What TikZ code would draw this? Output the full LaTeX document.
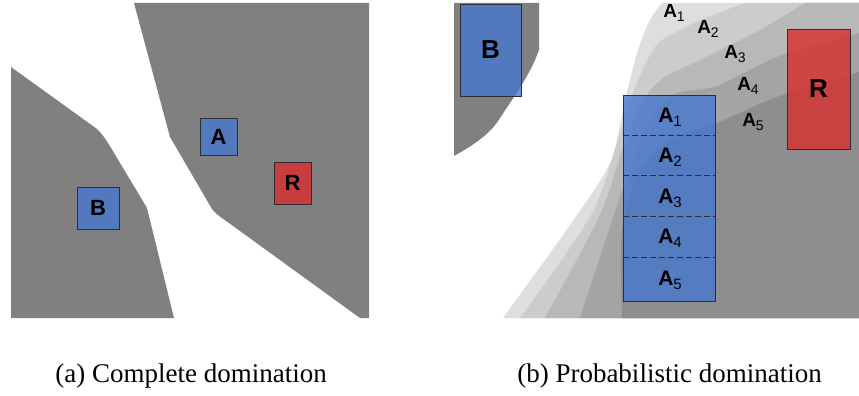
\documentclass[tikz,border=0pt]{standalone}
\usepackage{fontspec}
\setmainfont{Liberation Serif}
\newfontfamily\arialf{Liberation Sans}
\usetikzlibrary{calc}
\definecolor{gmid}{RGB}{128,128,128}
\definecolor{bandA}{RGB}{222,222,222}
\definecolor{bandB}{RGB}{204,204,204}
\definecolor{bandC}{RGB}{184,184,184}
\definecolor{bandD}{RGB}{164,164,164}
\definecolor{bandE}{RGB}{142,142,142}
\definecolor{boxblue}{RGB}{70,118,208}
\definecolor{boxred}{RGB}{218,46,46}
\definecolor{boxedge}{RGB}{45,45,50}
\newcommand{\bigsub}[1]{A\kern-0.3pt\raisebox{-4pt}{\fontsize{15}{15}\selectfont\mdseries #1}}
\newcommand{\smallsub}[1]{A\kern-0.3pt\raisebox{-3.5pt}{\fontsize{14}{14}\selectfont\mdseries #1}}
\tikzset{
  bluebox/.style={draw=boxedge, line width=0.8pt, fill=boxblue, fill opacity=0.78, text opacity=1, inner sep=0pt},
  redbox/.style={draw=boxedge, line width=0.8pt, fill=boxred, fill opacity=0.8, text opacity=1, inner sep=0pt},
  lbl/.style={font=\arialf\bfseries\fontsize{22}{22}\selectfont},
  biglbl/.style={font=\arialf\bfseries\fontsize{26}{26}\selectfont},
  celllbl/.style={font=\arialf\bfseries\fontsize{21}{21}\selectfont, inner sep=0pt},
  outlbl/.style={font=\arialf\bfseries\fontsize{19}{19}\selectfont, inner sep=0pt},
  divider/.style={draw=boxedge, line width=0.8pt, dash pattern=on 6pt off 3pt},
  caption/.style={font=\fontsize{27}{27}\selectfont, anchor=base, inner sep=0pt}
}
\begin{document}
\begin{tikzpicture}[x=1pt,y=-1pt]
\useasboundingbox[fill=white] (0,0) rectangle (859,396);
% ---------- panel (a) ----------
\fill[gmid] (11,67) -- (97,129) .. controls (102,134) and (104,137) .. (108,143) -- (147,208) -- (174,318) -- (11,318) -- cycle;
\fill[gmid] (134,3) -- (369,3) -- (369,318) -- (360,318) -- (222,218) .. controls (218,215) and (215,213) .. (212,209) -- (170,137) -- cycle;
\node[bluebox, lbl, minimum width=37pt, minimum height=37pt] (a) at (218.5,136.5) {A};
\node[redbox, lbl, minimum width=37pt, minimum height=42pt] (r) at (292.5,183) {R};
\node[bluebox, lbl, minimum width=42pt, minimum height=42pt] (b) at (98,208) {B};
% ---------- panel (b) ----------
\fill[gmid] (454,3) -- (539,3) -- (539,50) .. controls (530,75) and (515,95) .. (500,118) .. controls (490,135) and (470,147) .. (454,156) -- cycle;
\fill[bandA] plot[smooth, tension=0.5] coordinates {(503,318) (570,225) (610,163) (625,100) (638,50) (650,20) (662,3)} -- (859,3) -- (859,318) -- cycle;
\fill[bandB] plot[smooth, tension=0.5] coordinates {(520,318) (590,217) (615,150) (632,95) (655,47) (680,30) (703,19) (745,3)} -- (859,3) -- (859,318) -- cycle;
\fill[bandC] plot[smooth, tension=0.5] coordinates {(545,318) (600,215) (622,150) (640,105) (662,79) (700,60) (760,30) (805,3)} -- (859,3) -- (859,318) -- cycle;
\fill[bandD] plot[smooth, tension=0.5] coordinates {(580,318) (620,197) (645,130) (672,95) (717,86) (777,57) (859,33)} -- (859,318) -- cycle;
\fill[bandE] plot[smooth, tension=0.5] coordinates {(622,318) (622,230) (640,170) (675,138) (717,123) (777,97) (859,72)} -- (859,318) -- cycle;
\node[bluebox, biglbl, minimum width=61pt, minimum height=92pt] (b2) at (490.5,50) {B};
\node[redbox, biglbl, minimum width=63pt, minimum height=120pt] (r2) at (818.5,89) {R};
\node[bluebox, minimum width=92pt, minimum height=206pt] (stack) at (669,198) {};
\foreach \f in {0.195,0.393,0.587,0.786}{
  \draw[divider] ($(stack.north west)!\f!(stack.south west)$) -- ($(stack.north east)!\f!(stack.south east)$);
}
\node[celllbl] (c1) at (670,117) {\bigsub{1}};
\node[celllbl] (c2) at (670,157) {\bigsub{2}};
\node[celllbl] (c3) at (670,198) {\bigsub{3}};
\node[celllbl] (c4) at (670,238) {\bigsub{4}};
\node[celllbl] (c5) at (670,280) {\bigsub{5}};
\node[outlbl] (o1) at (674,13) {\smallsub{1}};
\node[outlbl] (o2) at (708,29) {\smallsub{2}};
\node[outlbl] (o3) at (735,54) {\smallsub{3}};
\node[outlbl] (o4) at (748,86) {\smallsub{4}};
\node[outlbl] (o5) at (753,122) {\smallsub{5}};
% ---------- captions ----------
\node[caption] (capa) at (191,382) {(a) Complete domination};
\node[caption] (capb) at (669.5,382) {(b) Probabilistic domination};
\end{tikzpicture}
\end{document}
